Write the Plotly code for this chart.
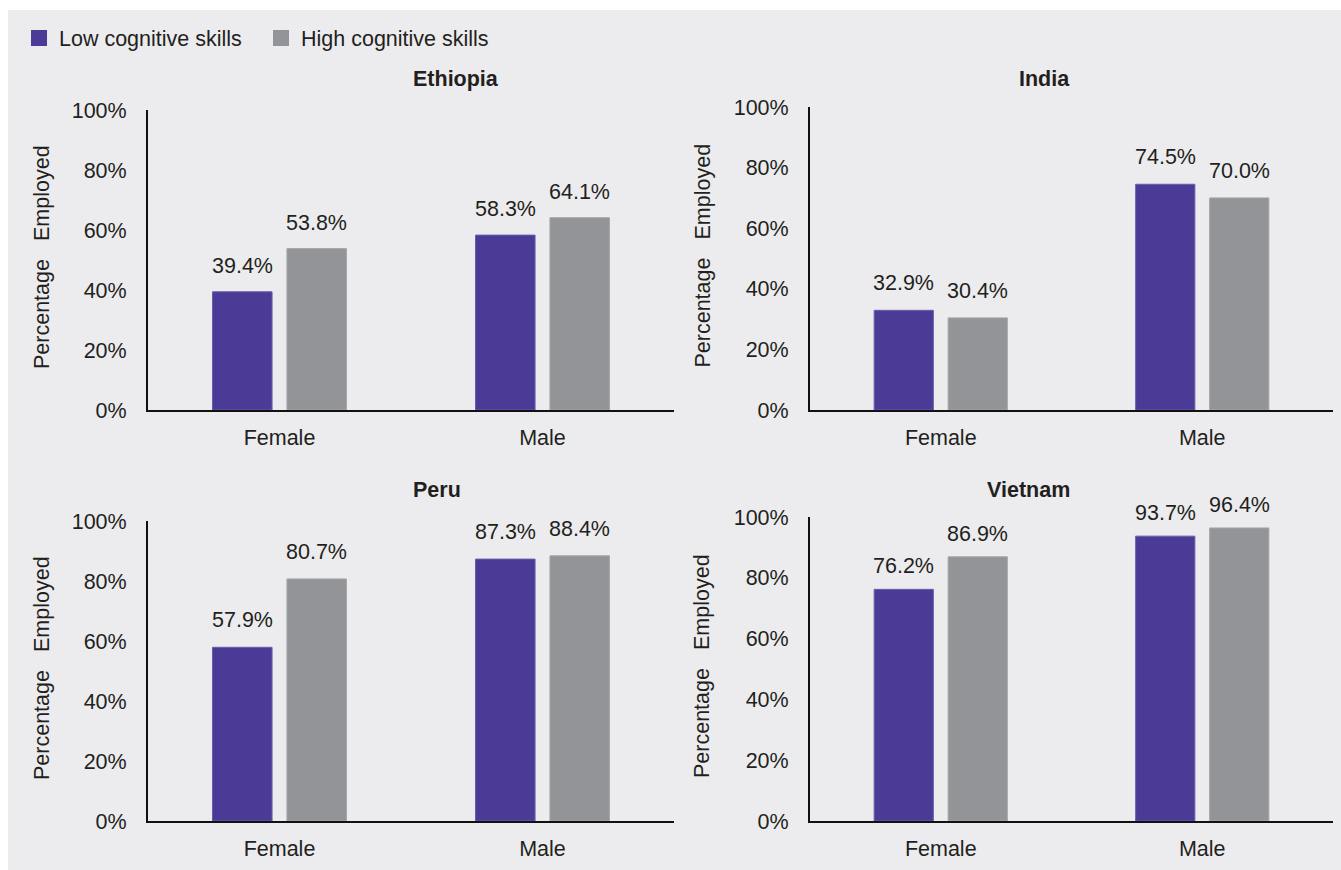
import plotly.graph_objects as go

countries = ["Ethiopia", "India", "Peru", "Vietnam"]
genders = ["Female", "Male"]
low_skills = {"Ethiopia": [39.4, 58.3], "India": [32.9, 74.5], "Peru": [57.9, 87.3], "Vietnam": [76.2, 93.7]}
high_skills = {"Ethiopia": [53.8, 64.1], "India": [30.4, 70.0], "Peru": [80.7, 88.4], "Vietnam": [86.9, 96.4]}
series_names = ["Low cognitive skills", "High cognitive skills"]
y_ticks = [0, 20, 40, 60, 80, 100]
y_ticklabels = ["0%", "20%", "40%", "60%", "80%", "100%"]
ytitle_words = ["Percentage", "Employed"]

W, H = 1341, 870
PURPLE = "#4b3b96"
GREY = "#939497"
BG = "#ececee"
TXT = "#231f20"
FONT = "Liberation Sans, Arial, sans-serif"
FS = 21.5

# pixel boxes: (x0, x1, ytop, ybottom, ytitle_x, panel_title_y)
boxes = {
    "Ethiopia": (148, 674, 110, 410, 42, 79),
    "India": (810, 1333, 107, 410, 702, 79),
    "Peru": (148, 674, 521, 821, 42, 490),
    "Vietnam": (810, 1333, 517, 821, 702, 490),
}
label_shift = {"Ethiopia": 12, "India": 13, "Peru": 13, "Vietnam": 9}

fig = go.Figure()
annotations = []
for i, c in enumerate(countries):
    ax = "" if i == 0 else str(i + 1)
    xa, ya = "x" + ax, "y" + ax
    x0, x1, yt, yb, tx, ty = boxes[c]
    fig.add_trace(go.Bar(x=genders, y=low_skills[c], name=series_names[0], marker=dict(color=PURPLE, line=dict(color="#6a5cab", width=1)),
                         xaxis=xa, yaxis=ya, showlegend=False, hoverinfo="skip"))
    fig.add_trace(go.Bar(x=genders, y=high_skills[c], name=series_names[1], marker=dict(color=GREY, line=dict(color="#a5a6a9", width=1)),
                         xaxis=xa, yaxis=ya, showlegend=False, hoverinfo="skip"))
    dom_x = [x0 / W, x1 / W]
    dom_y = [1 - yb / H, 1 - yt / H]
    fig.update_layout(**{
        "xaxis" + ax: dict(domain=dom_x, anchor=ya, showline=True, linecolor="#111111", linewidth=2,
                           ticks="outside", ticklen=7, tickcolor="rgba(0,0,0,0)", automargin=False,
                           tickfont=dict(size=FS, color=TXT, family=FONT), showgrid=False, fixedrange=True),
        "yaxis" + ax: dict(domain=dom_y, anchor=xa, range=[0, 100], showline=True, linecolor="#111111", linewidth=2,
                           tickvals=y_ticks, ticktext=y_ticklabels, ticks="outside", ticklen=15, tickcolor="rgba(0,0,0,0)",
                           automargin=False,
                           tickfont=dict(size=FS, color=TXT, family=FONT), showgrid=False, zeroline=False, fixedrange=True),
    })
    # titles
    annotations.append(dict(text="<b>" + c + "</b>", x=(dom_x[0] + dom_x[1]) / 2, y=1 - ty / H,
                             xref="paper", yref="paper", showarrow=False, yanchor="middle",
                             font=dict(size=FS, color=TXT, family=FONT)))
    # y-axis title (two words, spaced apart)
    ymid = (yt + yb) / 2
    for word, off in zip(ytitle_words, [54, -67]):
        annotations.append(dict(text=word, x=tx / W, y=1 - (ymid + off) / H,
                                 xref="paper", yref="paper", showarrow=False, textangle=-90,
                                 xanchor="center", yanchor="middle",
                                 font=dict(size=FS, color=TXT, family=FONT)))
    # value labels
    for j, g in enumerate(genders):
        for vals, xs in ((low_skills[c], -37), (high_skills[c], 37)):
            annotations.append(dict(text=f"{vals[j]:.1f}%", x=g, y=vals[j], xref=xa, yref=ya,
                                    xshift=xs, yshift=label_shift[c], yanchor="bottom", showarrow=False,
                                    font=dict(size=FS, color=TXT, family=FONT)))

# legend entries
for name, col in zip(series_names, [PURPLE, GREY]):
    fig.add_trace(go.Scatter(x=[None], y=[None], mode="markers", name=name,
                             marker=dict(symbol="square", size=16, color=col), xaxis="x", yaxis="y"))

fig.update_layout(
    width=W, height=H,
    margin=dict(l=0, r=0, t=0, b=0, autoexpand=False),
    paper_bgcolor="white", plot_bgcolor="rgba(0,0,0,0)",
    barmode="group", bargap=0.434, bargroupgap=0.2,
    font=dict(family=FONT, color=TXT, size=FS),
    showlegend=True,
    legend=dict(orientation="h", x=19 / W, y=1 - 38 / H, xanchor="left", yanchor="middle",
                entrywidth=197, entrywidthmode="pixels",
                font=dict(size=FS, color=TXT, family=FONT), bgcolor="rgba(0,0,0,0)"),
    annotations=annotations,
    shapes=[dict(type="rect", xref="paper", yref="paper", x0=8 / W, x1=1, y0=0, y1=1 - 10 / H,
                 fillcolor=BG, line=dict(width=0), layer="below")],
)

fig.write_html("out.html")
